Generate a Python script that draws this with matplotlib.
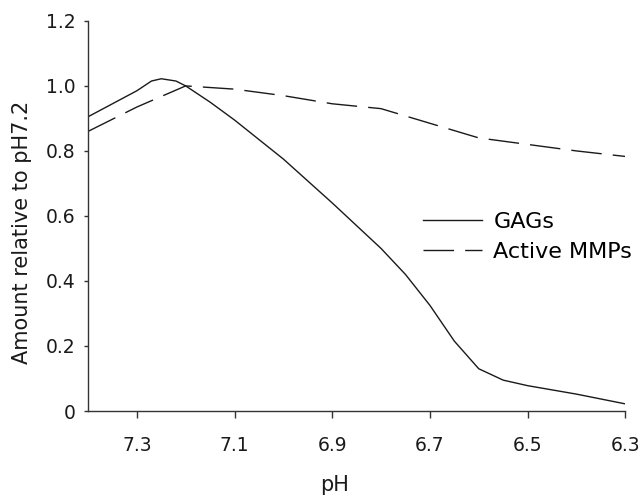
import matplotlib
matplotlib.use("Agg")
import matplotlib.pyplot as plt

# values
ph_gags = [7.4, 7.35, 7.3, 7.27, 7.25, 7.22, 7.2, 7.15, 7.1, 7.0, 6.9, 6.8, 6.75, 6.7, 6.65, 6.6, 6.55, 6.5, 6.4, 6.3]
gags = [0.905, 0.945, 0.985, 1.015, 1.022, 1.015, 1.0, 0.95, 0.895, 0.775, 0.64, 0.50, 0.42, 0.325, 0.215, 0.13, 0.095, 0.078, 0.052, 0.022]

ph_mmps = [7.4, 7.3, 7.2, 7.1, 7.0, 6.9, 6.8, 6.7, 6.6, 6.5, 6.4, 6.3]
mmps = [0.86, 0.935, 1.0, 0.99, 0.97, 0.945, 0.93, 0.885, 0.84, 0.82, 0.80, 0.783]

x_ticks = [7.3, 7.1, 6.9, 6.7, 6.5, 6.3]
y_ticks = [0, 0.2, 0.4, 0.6, 0.8, 1.0, 1.2]
y_labels = ["0", "0.2", "0.4", "0.6", "0.8", "1.0", "1.2"]

plt.rcParams["font.family"] = ["DejaVu Sans"]
fig = plt.figure(figsize=(6.4, 4.97), dpi=100)
ax = fig.add_axes([0.1375, 0.173, 0.8395, 0.785])

ax.plot(ph_gags, gags, color="#1a1a1a", lw=1.0, label="GAGs")
ax.plot(ph_mmps, mmps, color="#1a1a1a", lw=1.0, dashes=(22, 8), label="Active MMPs")

ax.set_xlim(7.4, 6.3)
ax.set_ylim(0, 1.2)
ax.set_xticks(x_ticks)
ax.set_xticklabels([f"{v:.1f}" for v in x_ticks])
ax.set_yticks(y_ticks)
ax.set_yticklabels(y_labels)

for s in ["top", "right"]:
    ax.spines[s].set_visible(False)
for s in ["left", "bottom"]:
    ax.spines[s].set_color("#333333")
    ax.spines[s].set_linewidth(1.0)
ax.tick_params(axis="both", labelsize=13.5, colors="#333333", labelcolor="#1a1a1a", width=1.0)
ax.tick_params(axis="x", length=5, pad=13)
ax.tick_params(axis="y", length=3, pad=6)

ax.set_xlabel("pH", fontsize=15, color="#1a1a1a")
ax.set_ylabel("Amount relative to pH7.2", fontsize=15, color="#1a1a1a")
ax.xaxis.set_label_coords(0.458, -0.19)
ax.yaxis.set_label_coords(-0.123, 0.459)
ax.xaxis.label.set_va("center")
ax.yaxis.label.set_va("center")

ax.legend(loc="upper left", bbox_to_anchor=(0.624, 0.51), frameon=False, fontsize=16,
          borderaxespad=0, borderpad=0,
          handlelength=2.65, handletextpad=0.5, labelspacing=0.45)

fig.savefig("out.png", dpi=100)
